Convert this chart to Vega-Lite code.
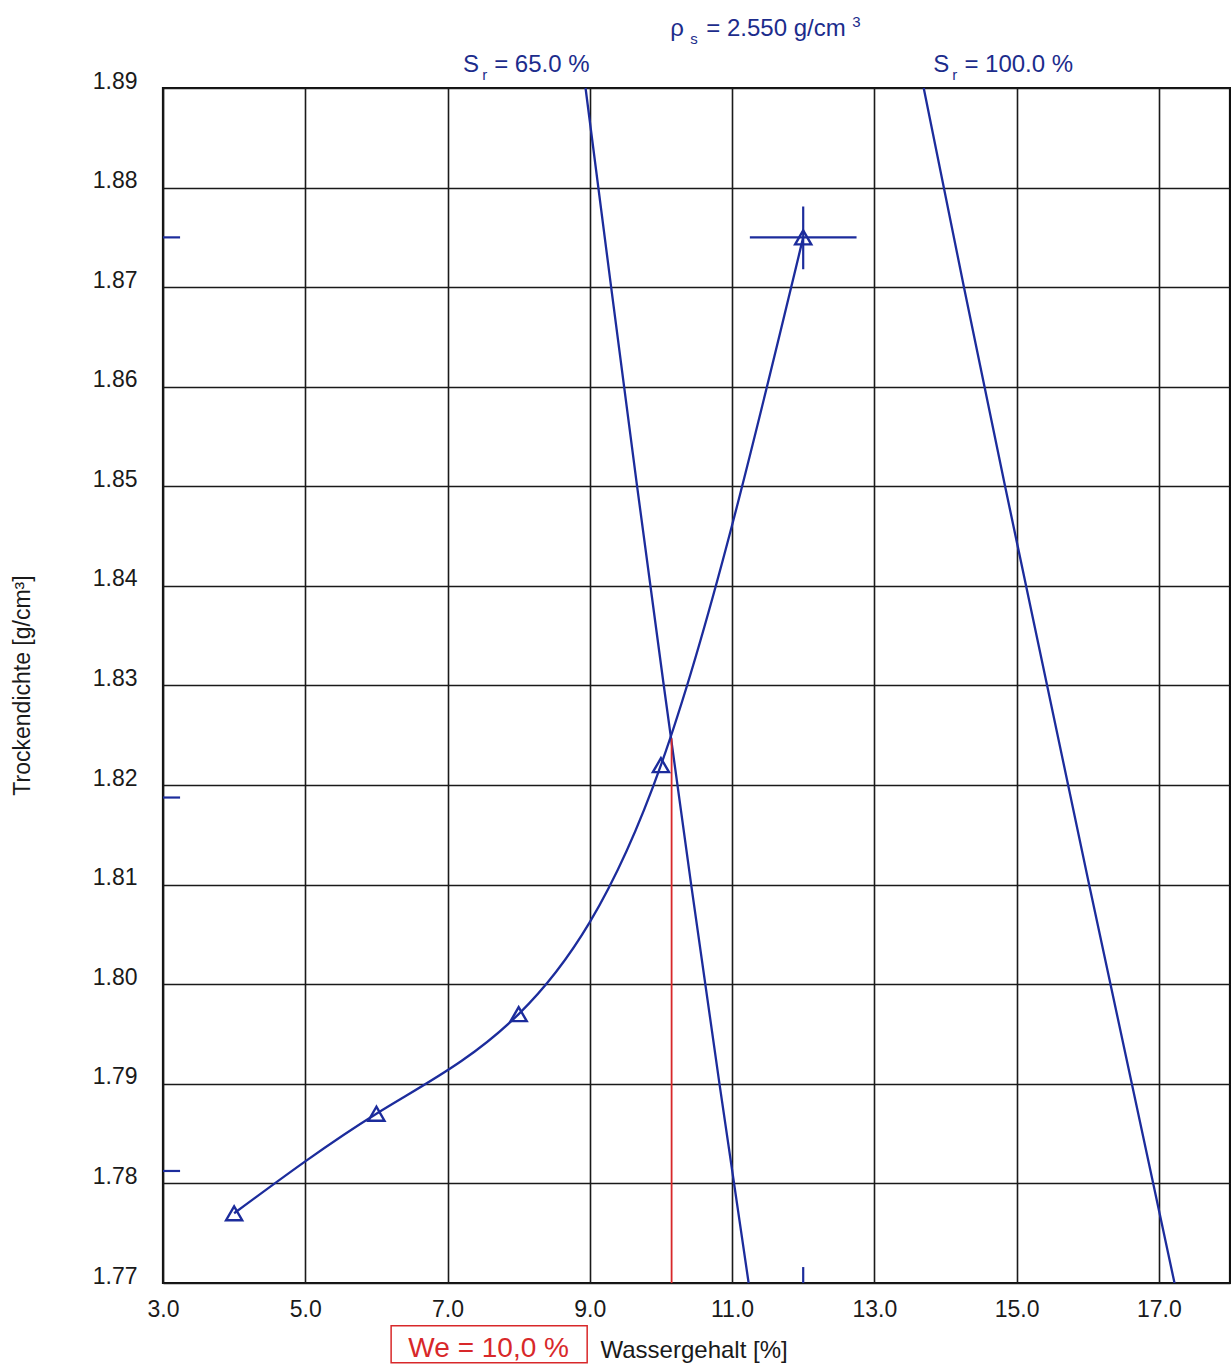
{
  "$schema": "https://vega.github.io/schema/vega-lite/v6.json",
  "width": 1067,
  "height": 1195,
  "autosize": {"type": "none"},
  "padding": {"left": 163, "top": 88, "right": 1, "bottom": 82},
  "background": "white",
  "config": {
    "view": {"stroke": "#111111", "strokeWidth": 2.2},
    "font": "Liberation Sans",
    "axis": {
      "grid": true,
      "gridColor": "#1a1a1a",
      "gridWidth": 1.6,
      "gridOpacity": 1,
      "domain": false,
      "ticks": false,
      "labelFlush": false,
      "labelFont": "Liberation Sans",
      "labelFontSize": 23,
      "labelColor": "#1a1a1a",
      "titleFont": "Liberation Sans",
      "titleFontWeight": "normal",
      "titleColor": "#1a1a1a"
    }
  },
  "datasets": {
    "points": [
      {"w": 4.0, "rho": 1.777},
      {"w": 6.0, "rho": 1.787},
      {"w": 8.0, "rho": 1.797},
      {"w": 10.0, "rho": 1.822},
      {"w": 12.0, "rho": 1.875}
    ],
    "sat": [
      {"sr": "65", "w": 8.94, "rho": 1.89},
      {"sr": "65", "w": 9.3, "rho": 1.87},
      {"sr": "65", "w": 9.665, "rho": 1.85},
      {"sr": "65", "w": 10.04, "rho": 1.83},
      {"sr": "65", "w": 10.425, "rho": 1.81},
      {"sr": "65", "w": 10.823, "rho": 1.79},
      {"sr": "65", "w": 11.233, "rho": 1.77},
      {"sr": "100", "w": 13.694, "rho": 1.89},
      {"sr": "100", "w": 14.26, "rho": 1.87},
      {"sr": "100", "w": 14.838, "rho": 1.85},
      {"sr": "100", "w": 15.429, "rho": 1.83},
      {"sr": "100", "w": 16.02, "rho": 1.81},
      {"sr": "100", "w": 16.62, "rho": 1.79},
      {"sr": "100", "w": 17.22, "rho": 1.77}
    ],
    "hbars": [
      {"w": 11.25, "w2": 12.75, "rho": 1.875},
      {"w": 3.0, "w2": 3.24, "rho": 1.875},
      {"w": 3.0, "w2": 3.24, "rho": 1.81875},
      {"w": 3.0, "w2": 3.24, "rho": 1.78125}
    ],
    "vbars": [
      {"w": 12.0, "rho": 1.8718, "rho2": 1.8781},
      {"w": 12.0, "rho": 1.77, "rho2": 1.7716}
    ],
    "bigtext": [
      {"w": 10.131, "rho": 1.89522, "t": "ρ"},
      {"w": 10.637, "rho": 1.89522, "t": "= 2.550 g/cm"},
      {"w": 7.219, "rho": 1.89161, "t": "S"},
      {"w": 7.655, "rho": 1.89161, "t": "= 65.0 %"},
      {"w": 13.83, "rho": 1.89161, "t": "S"},
      {"w": 14.266, "rho": 1.89161, "t": "= 100.0 %"}
    ],
    "smalltext": [
      {"w": 10.412, "rho": 1.89442, "t": "s"},
      {"w": 12.69, "rho": 1.8961, "t": "3"},
      {"w": 7.487, "rho": 1.8908, "t": "r"},
      {"w": 14.097, "rho": 1.8908, "t": "r"}
    ],
    "we": [
      {"w": 7.578, "rho": 1.76259, "t": "We = 10,0 %", "w1": 6.207, "w2": 8.963, "r1": 1.7657, "r2": 1.76199}
    ],
    "wline": [
      {"w": 10.15, "rho": 1.77, "rho2": 1.8247}
    ]
  },
  "layer": [
    {
      "data": {"name": "sat"},
      "mark": {"type": "line", "color": "#1c2c9c", "strokeWidth": 2.3},
      "encoding": {
        "x": {
          "field": "w", "type": "quantitative",
          "scale": {"domain": [3, 18], "nice": false, "zero": false},
          "axis": {
            "values": [3, 5, 7, 9, 11, 13, 15, 17],
            "format": ".1f",
            "labelPadding": 15,
            "title": "Wassergehalt [%]",
            "titleFontSize": 24,
            "titleAlign": "left",
            "titleBaseline": "alphabetic",
            "titleX": 437,
            "titleY": 74
          }
        },
        "y": {
          "field": "rho", "type": "quantitative",
          "scale": {"domain": [1.77, 1.89], "nice": false, "zero": false},
          "axis": {
            "values": [1.77, 1.78, 1.79, 1.80, 1.81, 1.82, 1.83, 1.84, 1.85, 1.86, 1.87, 1.88, 1.89],
            "format": ".2f",
            "labelPadding": 26,
            "labelBaseline": "alphabetic",
            "title": "Trockendichte [g/cm³]",
            "titleFontSize": 23,
            "titleAngle": -90,
            "titleAlign": "center",
            "titleBaseline": "middle",
            "titleX": -141,
            "titleY": 597
          }
        },
        "detail": {"field": "sr"}
      }
    },
    {
      "data": {"name": "wline"},
      "mark": {"type": "rule", "color": "#d8282a", "strokeWidth": 1.8},
      "encoding": {
        "x": {"field": "w", "type": "quantitative"},
        "y": {"field": "rho", "type": "quantitative"},
        "y2": {"field": "rho2"}
      }
    },
    {
      "data": {"name": "points"},
      "mark": {"type": "line", "color": "#1c2c9c", "strokeWidth": 2.3, "interpolate": "natural"},
      "encoding": {
        "x": {"field": "w", "type": "quantitative"},
        "y": {"field": "rho", "type": "quantitative"}
      }
    },
    {
      "data": {"name": "points"},
      "mark": {"type": "point", "shape": "triangle-up", "filled": false, "color": "#1c2c9c", "strokeWidth": 2.4, "size": 260, "opacity": 1},
      "encoding": {
        "x": {"field": "w", "type": "quantitative"},
        "y": {"field": "rho", "type": "quantitative"}
      }
    },
    {
      "data": {"name": "hbars"},
      "mark": {"type": "rule", "color": "#1c2c9c", "strokeWidth": 2.2},
      "encoding": {
        "x": {"field": "w", "type": "quantitative"},
        "x2": {"field": "w2"},
        "y": {"field": "rho", "type": "quantitative"}
      }
    },
    {
      "data": {"name": "vbars"},
      "mark": {"type": "rule", "color": "#1c2c9c", "strokeWidth": 2.2},
      "encoding": {
        "x": {"field": "w", "type": "quantitative"},
        "y": {"field": "rho", "type": "quantitative"},
        "y2": {"field": "rho2"}
      }
    },
    {
      "data": {"name": "bigtext"},
      "mark": {"type": "text", "align": "left", "baseline": "alphabetic", "fontSize": 24, "font": "Liberation Sans", "color": "#1c2c8c"},
      "encoding": {
        "x": {"field": "w", "type": "quantitative"},
        "y": {"field": "rho", "type": "quantitative"},
        "text": {"field": "t"}
      }
    },
    {
      "data": {"name": "smalltext"},
      "mark": {"type": "text", "align": "left", "baseline": "alphabetic", "fontSize": 15, "font": "Liberation Sans", "color": "#1c2c8c"},
      "encoding": {
        "x": {"field": "w", "type": "quantitative"},
        "y": {"field": "rho", "type": "quantitative"},
        "text": {"field": "t"}
      }
    },
    {
      "data": {"name": "we"},
      "mark": {"type": "rect", "fill": null, "fillOpacity": 0, "stroke": "#d8282a", "strokeWidth": 1.5},
      "encoding": {
        "x": {"field": "w1", "type": "quantitative"},
        "x2": {"field": "w2"},
        "y": {"field": "r1", "type": "quantitative"},
        "y2": {"field": "r2"}
      }
    },
    {
      "data": {"name": "we"},
      "mark": {"type": "text", "align": "center", "baseline": "alphabetic", "fontSize": 28, "font": "Liberation Sans", "color": "#d8282a"},
      "encoding": {
        "x": {"field": "w", "type": "quantitative"},
        "y": {"field": "rho", "type": "quantitative"},
        "text": {"field": "t"}
      }
    }
  ]
}
